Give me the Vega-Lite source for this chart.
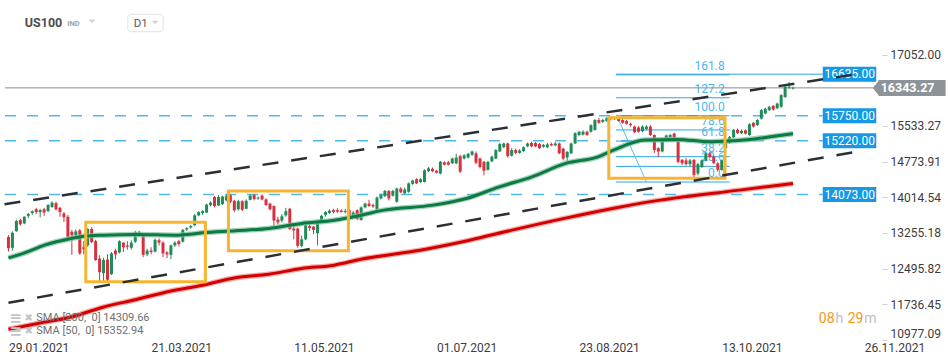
{
  "$schema": "https://vega.github.io/schema/vega-lite/v6.json",
  "width": 882,
  "height": 340,
  "autosize": {"type": "none"},
  "padding": {"left": 0, "top": 0, "right": 68, "bottom": 24},
  "background": "#ffffff",
  "config": {"view": {"stroke": null}, "font": "Roboto", "axis": {"grid": false}},
  "datasets": {
    "candles": [
      {"i":0,"o":13170,"h":13210,"l":12860,"c":12930},{"i":1,"o":12940,"h":13290,"l":12880,"c":13260},{"i":2,"o":13290,"h":13540,"l":13280,"c":13510},{"i":3,"o":13530,"h":13560,"l":13410,"c":13440},{"i":4,"o":13460,"h":13610,"l":13440,"c":13600},
      {"i":5,"o":13620,"h":13680,"l":13570,"c":13660},{"i":6,"o":13680,"h":13740,"l":13640,"c":13720},{"i":7,"o":13760,"h":13790,"l":13660,"c":13700},{"i":8,"o":13700,"h":13770,"l":13590,"c":13740},{"i":9,"o":13760,"h":13790,"l":13620,"c":13690},
      {"i":10,"o":13720,"h":13870,"l":13700,"c":13850},{"i":11,"o":13810,"h":13930,"l":13790,"c":13900},{"i":12,"o":13890,"h":13920,"l":13730,"c":13760},{"i":13,"o":13790,"h":13810,"l":13600,"c":13700},{"i":14,"o":13670,"h":13700,"l":13490,"c":13590},
      {"i":15,"o":13600,"h":13640,"l":13140,"c":13170},{"i":16,"o":13280,"h":13320,"l":12790,"c":13210},{"i":17,"o":13200,"h":13330,"l":13140,"c":13290},{"i":18,"o":13310,"h":13340,"l":12790,"c":12820},{"i":19,"o":12950,"h":13080,"l":12800,"c":12910},
      {"i":20,"o":12990,"h":13360,"l":12960,"c":13340},{"i":21,"o":13340,"h":13380,"l":13040,"c":13060},{"i":22,"o":13080,"h":13110,"l":12660,"c":12680},{"i":23,"o":12710,"h":12780,"l":12210,"c":12420},{"i":24,"o":12400,"h":12730,"l":12210,"c":12680},
      {"i":25,"o":12690,"h":12800,"l":12200,"c":12260},{"i":26,"o":12380,"h":12850,"l":12360,"c":12820},{"i":27,"o":12880,"h":12920,"l":12690,"c":12800},{"i":28,"o":12840,"h":13100,"l":12820,"c":13080},{"i":29,"o":13050,"h":13060,"l":12850,"c":12950},
      {"i":30,"o":12990,"h":13080,"l":12900,"c":12960},{"i":31,"o":12940,"h":13100,"l":12900,"c":13050},{"i":32,"o":13070,"h":13300,"l":13040,"c":13270},{"i":33,"o":13220,"h":13300,"l":13170,"c":13280},{"i":34,"o":13210,"h":13230,"l":12740,"c":12790},
      {"i":35,"o":12800,"h":12920,"l":12760,"c":12880},{"i":36,"o":12880,"h":12950,"l":12800,"c":12850},{"i":37,"o":12860,"h":13140,"l":12840,"c":13110},{"i":38,"o":13100,"h":13140,"l":12990,"c":13050},{"i":39,"o":13050,"h":13080,"l":12740,"c":12820},
      {"i":40,"o":12840,"h":12870,"l":12720,"c":12800},{"i":41,"o":12790,"h":13010,"l":12700,"c":12990},{"i":42,"o":12990,"h":13080,"l":12960,"c":13050},{"i":43,"o":13080,"h":13110,"l":12970,"c":13020},{"i":44,"o":13070,"h":13340,"l":13050,"c":13320},
      {"i":45,"o":13330,"h":13380,"l":13300,"c":13360},{"i":46,"o":13370,"h":13430,"l":13350,"c":13400},{"i":47,"o":13420,"h":13660,"l":13400,"c":13630},{"i":48,"o":13630,"h":13720,"l":13610,"c":13700},{"i":49,"o":13680,"h":13740,"l":13640,"c":13720},
      {"i":50,"o":13690,"h":13880,"l":13680,"c":13860},{"i":51,"o":13850,"h":13930,"l":13820,"c":13900},{"i":52,"o":14020,"h":14040,"l":13800,"c":13830},{"i":53,"o":13840,"h":14060,"l":13830,"c":14020},{"i":54,"o":13870,"h":14050,"l":13850,"c":14030},
      {"i":55,"o":13950,"h":14070,"l":13930,"c":14040},{"i":56,"o":14060,"h":14080,"l":13890,"c":13920},{"i":57,"o":13940,"h":13960,"l":13700,"c":13740},{"i":58,"o":13760,"h":13960,"l":13730,"c":13930},{"i":59,"o":13930,"h":13950,"l":13720,"c":13750},
      {"i":60,"o":13770,"h":13970,"l":13760,"c":13940},{"i":61,"o":13960,"h":14080,"l":13950,"c":14050},{"i":62,"o":14060,"h":14090,"l":13950,"c":13980},{"i":63,"o":13990,"h":14030,"l":13960,"c":14010},{"i":64,"o":14050,"h":14080,"l":13950,"c":13970},
      {"i":65,"o":13970,"h":13990,"l":13830,"c":13850},{"i":66,"o":13880,"h":13900,"l":13740,"c":13760},{"i":67,"o":13830,"h":13840,"l":13400,"c":13520},{"i":68,"o":13540,"h":13600,"l":13440,"c":13480},{"i":69,"o":13520,"h":13660,"l":13480,"c":13610},
      {"i":70,"o":13630,"h":13790,"l":13600,"c":13720},{"i":71,"o":13770,"h":13790,"l":13320,"c":13340},{"i":72,"o":13350,"h":13420,"l":13120,"c":13310},{"i":73,"o":13350,"h":13370,"l":12940,"c":12980},{"i":74,"o":12980,"h":13200,"l":12950,"c":13120},
      {"i":75,"o":13120,"h":13440,"l":13100,"c":13420},{"i":76,"o":13400,"h":13440,"l":13300,"c":13360},{"i":77,"o":13390,"h":13400,"l":13230,"c":13320},{"i":78,"o":13250,"h":13500,"l":12990,"c":13480},{"i":79,"o":13500,"h":13640,"l":13480,"c":13620},
      {"i":80,"o":13640,"h":13720,"l":13600,"c":13700},{"i":81,"o":13680,"h":13760,"l":13660,"c":13730},{"i":82,"o":13740,"h":13770,"l":13670,"c":13700},{"i":83,"o":13740,"h":13780,"l":13680,"c":13710},{"i":84,"o":13730,"h":13760,"l":13690,"c":13700},
      {"i":85,"o":13700,"h":13770,"l":13670,"c":13720},{"i":86,"o":13740,"h":13770,"l":13520,"c":13540},{"i":87,"o":13610,"h":13720,"l":13590,"c":13690},{"i":88,"o":13740,"h":13760,"l":13530,"c":13550},{"i":89,"o":13530,"h":13820,"l":13520,"c":13800},
      {"i":90,"o":13800,"h":13900,"l":13780,"c":13880},{"i":91,"o":13880,"h":13960,"l":13810,"c":13830},{"i":92,"o":13850,"h":13880,"l":13790,"c":13820},{"i":93,"o":13760,"h":14030,"l":13740,"c":14010},{"i":94,"o":13990,"h":14090,"l":13970,"c":14060},
      {"i":95,"o":14040,"h":14170,"l":14020,"c":14150},{"i":96,"o":14150,"h":14170,"l":13950,"c":13990},{"i":97,"o":14050,"h":14170,"l":14030,"c":14150},{"i":98,"o":13920,"h":14220,"l":13900,"c":14200},{"i":99,"o":14200,"h":14230,"l":14100,"c":14120},
      {"i":100,"o":14100,"h":14220,"l":14080,"c":14180},{"i":101,"o":14130,"h":14330,"l":14110,"c":14310},{"i":102,"o":14300,"h":14390,"l":14280,"c":14370},{"i":103,"o":14400,"h":14420,"l":14300,"c":14310},{"i":104,"o":14340,"h":14420,"l":14320,"c":14400},
      {"i":105,"o":14340,"h":14610,"l":14330,"c":14590},{"i":106,"o":14570,"h":14660,"l":14550,"c":14630},{"i":107,"o":14620,"h":14650,"l":14550,"c":14570},{"i":108,"o":14580,"h":14600,"l":14520,"c":14540},{"i":109,"o":14520,"h":14790,"l":14500,"c":14770},
      {"i":110,"o":14760,"h":14780,"l":14690,"c":14710},{"i":111,"o":14760,"h":14790,"l":14690,"c":14710},{"i":112,"o":14740,"h":14860,"l":14720,"c":14840},{"i":113,"o":14740,"h":14940,"l":14720,"c":14860},{"i":114,"o":14890,"h":14920,"l":14530,"c":14560},
      {"i":115,"o":14840,"h":14930,"l":14820,"c":14910},{"i":116,"o":14860,"h":14960,"l":14840,"c":14940},{"i":117,"o":14920,"h":15010,"l":14900,"c":14990},{"i":118,"o":14950,"h":14990,"l":14720,"c":14750},{"i":119,"o":14840,"h":14860,"l":14630,"c":14660},
      {"i":120,"o":14770,"h":14790,"l":14480,"c":14580},{"i":121,"o":14600,"h":14790,"l":14580,"c":14770},{"i":122,"o":14780,"h":14900,"l":14760,"c":14880},{"i":123,"o":14840,"h":15040,"l":14830,"c":15020},{"i":124,"o":14990,"h":15170,"l":14980,"c":15150},
      {"i":125,"o":15080,"h":15180,"l":15060,"c":15160},{"i":126,"o":15160,"h":15180,"l":14860,"c":14890},{"i":127,"o":14900,"h":15060,"l":14880,"c":15020},{"i":128,"o":15020,"h":15050,"l":14930,"c":14960},{"i":129,"o":14960,"h":15040,"l":14940,"c":15010},
      {"i":130,"o":15000,"h":15100,"l":14980,"c":15080},{"i":131,"o":15100,"h":15180,"l":15080,"c":15160},{"i":132,"o":15170,"h":15200,"l":15080,"c":15100},{"i":133,"o":15170,"h":15190,"l":15080,"c":15100},{"i":134,"o":15150,"h":15170,"l":15040,"c":15060},
      {"i":135,"o":15090,"h":15150,"l":15070,"c":15130},{"i":136,"o":15080,"h":15170,"l":15060,"c":15140},{"i":137,"o":15150,"h":15180,"l":15100,"c":15120},{"i":138,"o":15120,"h":15190,"l":15100,"c":15160},{"i":139,"o":15160,"h":15180,"l":14930,"c":14950},
      {"i":140,"o":15050,"h":15070,"l":14800,"c":14840},{"i":141,"o":14860,"h":15000,"l":14780,"c":14980},{"i":142,"o":14950,"h":15180,"l":14940,"c":15160},{"i":143,"o":15160,"h":15400,"l":15150,"c":15380},{"i":144,"o":15340,"h":15430,"l":15320,"c":15410},
      {"i":145,"o":15350,"h":15440,"l":15330,"c":15410},{"i":146,"o":15410,"h":15430,"l":15320,"c":15340},{"i":147,"o":15410,"h":15570,"l":15390,"c":15550},{"i":148,"o":15450,"h":15680,"l":15430,"c":15660},{"i":149,"o":15660,"h":15700,"l":15580,"c":15600},
      {"i":150,"o":15620,"h":15690,"l":15600,"c":15660},{"i":151,"o":15640,"h":15720,"l":15620,"c":15700},{"i":152,"o":15700,"h":15740,"l":15650,"c":15680},{"i":153,"o":15680,"h":15730,"l":15660,"c":15710},{"i":154,"o":15700,"h":15720,"l":15620,"c":15640},
      {"i":155,"o":15660,"h":15680,"l":15580,"c":15600},{"i":156,"o":15640,"h":15660,"l":15560,"c":15580},{"i":157,"o":15580,"h":15600,"l":15520,"c":15550},{"i":158,"o":15520,"h":15540,"l":15380,"c":15400},{"i":159,"o":15500,"h":15530,"l":15390,"c":15410},
      {"i":160,"o":15420,"h":15550,"l":15400,"c":15520},{"i":161,"o":15470,"h":15550,"l":15440,"c":15520},{"i":162,"o":15520,"h":15550,"l":15320,"c":15340},{"i":163,"o":15340,"h":15350,"l":14960,"c":15020},{"i":164,"o":15060,"h":15080,"l":14870,"c":14990},
      {"i":165,"o":14990,"h":15250,"l":14970,"c":15230},{"i":166,"o":15230,"h":15350,"l":15200,"c":15330},{"i":167,"o":15290,"h":15360,"l":15270,"c":15340},{"i":168,"o":15370,"h":15390,"l":15240,"c":15270},{"i":169,"o":15200,"h":15210,"l":14740,"c":14770},
      {"i":170,"o":14810,"h":14830,"l":14700,"c":14740},{"i":171,"o":14800,"h":14850,"l":14690,"c":14720},{"i":172,"o":14720,"h":14830,"l":14680,"c":14800},{"i":173,"o":14810,"h":14830,"l":14420,"c":14490},{"i":174,"o":14520,"h":14750,"l":14480,"c":14720},
      {"i":175,"o":14660,"h":14820,"l":14640,"c":14800},{"i":176,"o":14800,"h":14970,"l":14780,"c":14950},{"i":177,"o":14950,"h":14980,"l":14850,"c":14870},{"i":178,"o":14880,"h":14900,"l":14720,"c":14740},{"i":179,"o":14740,"h":14760,"l":14560,"c":14600},
      {"i":180,"o":14600,"h":14820,"l":14580,"c":14800},{"i":181,"o":15060,"h":15210,"l":15040,"c":15190},{"i":182,"o":15170,"h":15320,"l":15150,"c":15300},{"i":183,"o":15290,"h":15470,"l":15280,"c":15450},{"i":184,"o":15450,"h":15480,"l":15360,"c":15380},
      {"i":185,"o":15380,"h":15460,"l":15360,"c":15430},{"i":186,"o":15440,"h":15460,"l":15350,"c":15370},{"i":187,"o":15340,"h":15590,"l":15320,"c":15570},{"i":188,"o":15600,"h":15620,"l":15500,"c":15520},{"i":189,"o":15550,"h":15680,"l":15530,"c":15660},
      {"i":190,"o":15690,"h":15890,"l":15670,"c":15870},{"i":191,"o":15800,"h":15920,"l":15780,"c":15900},{"i":192,"o":15870,"h":15960,"l":15850,"c":15940},{"i":193,"o":15960,"h":15980,"l":15860,"c":15880},{"i":194,"o":15910,"h":16030,"l":15890,"c":16010},
      {"i":195,"o":15940,"h":16210,"l":15920,"c":16190},{"i":196,"o":16150,"h":16390,"l":16130,"c":16370},{"i":197,"o":16350,"h":16474,"l":16320,"c":16370},{"i":198,"o":16330,"h":16370,"l":16310,"c":16343.27}
    ],
    "sma50": [
      {"i":0,"v":12725},{"i":4.1,"v":12831},{"i":9.1,"v":12996},{"i":15.8,"v":13138},{"i":19.1,"v":13187},{"i":24.1,"v":13209},{"i":32.3,"v":13223},{"i":42.3,"v":13209},{"i":45.8,"v":13230},{"i":49,"v":13258},{"i":57.3,"v":13300},{"i":65.7,"v":13351},{"i":74,"v":13458},{"i":82.2,"v":13528},{"i":89,"v":13634},{"i":94.7,"v":13741},{"i":107.2,"v":13848},{"i":115.6,"v":13990},{"i":123.9,"v":14237},{"i":132.1,"v":14450},{"i":140.6,"v":14736},{"i":148.8,"v":14876},{"i":153,"v":15030},{"i":160.6,"v":15232},{"i":168.8,"v":15247},{"i":177,"v":15196},{"i":181.3,"v":15211},{"i":185.5,"v":15232},{"i":193.7,"v":15320},{"i":198,"v":15370}
    ],
    "sma200": [
      {"i":0,"v":11206},{"i":7.4,"v":11327},{"i":15.8,"v":11468},{"i":24.1,"v":11681},{"i":32.3,"v":11839},{"i":40.8,"v":12016},{"i":49,"v":12144},{"i":57.3,"v":12303},{"i":65.7,"v":12378},{"i":74,"v":12499},{"i":82.2,"v":12570},{"i":89,"v":12697},{"i":103.9,"v":12889},{"i":116.4,"v":13102},{"i":127.1,"v":13315},{"i":140,"v":13560},{"i":153.8,"v":13798},{"i":164.5,"v":13954},{"i":184.5,"v":14167},{"i":198,"v":14310}
    ],
    "levels": [{"v":15750},{"v":15220},{"v":14073}],
    "tags": [{"v":16635},{"v":15750},{"v":15220},{"v":14073}],
    "fib": [
      {"lvl":"161.8","v":16621},{"lvl":"127.2","v":16133},{"lvl":"100.0","v":15750},{"lvl":"78.6","v":15448},{"lvl":"61.8","v":15211},{"lvl":"38.2","v":14879},{"lvl":"23.6","v":14673},{"lvl":"0.0","v":14340}
    ],
    "fibdiag": [{"i":153.8,"v":15700},{"i":161,"v":14340}],
    "trend": [
      {"g":"upper","i":-1,"v":13866},{"g":"upper","i":215,"v":16647},
      {"g":"lower","i":0,"v":11771},{"g":"lower","i":214,"v":14985}
    ],
    "boxes": [
      {"i1":19.51,"i2":49.7,"v1":13482,"v2":12218},
      {"i1":55.51,"i2":85.78,"v1":14149,"v2":12878},
      {"i1":151.5,"i2":180.84,"v1":15709,"v2":14419}
    ]
  },
  "layer": [
    {
      "data": {"name": "candles"},
      "mark": {"type": "rule", "strokeWidth": 1},
      "encoding": {
        "x": {
          "field": "i", "type": "quantitative",
          "scale": {"domain": [-0.873, 219.19], "nice": false, "zero": false},
          "axis": {
            "values": [0, 36, 72, 108, 144, 180, 216],
            "labelExpr": "datum.value == 0 ? '29.01.2021' : datum.value == 36 ? '21.03.2021' : datum.value == 72 ? '11.05.2021' : datum.value == 108 ? '01.07.2021' : datum.value == 144 ? '23.08.2021' : datum.value == 180 ? '13.10.2021' : '26.11.2021'",
            "labelAlign": "left", "labelPadding": 2, "ticks": false, "domain": false,
            "labelFontSize": 12, "labelColor": "#3c3c3c", "labelFont": "Roboto",
            "title": null, "labelOverlap": false, "labelBound": false, "labelFlush": false
          }
        },
        "y": {
          "field": "l", "type": "quantitative",
          "scale": {"domain": [10977.09, 18214], "nice": false, "zero": false},
          "axis": {
            "orient": "right",
            "values": [17052, 15533.27, 14773.91, 14014.54, 13255.18, 12495.82, 11736.45, 10977.09],
            "format": ".2f", "labelFlush": true, "tickSize": 5, "tickColor": "#d0d0d0",
            "domain": false, "labelPadding": 3, "labelFontSize": 12, "labelColor": "#3c3c3c",
            "labelFont": "Roboto", "title": null, "labelOverlap": false
          }
        },
        "y2": {"field": "h"},
        "color": {"value": "#ffffff"},
        "opacity": {"value": 0}
      }
    },
    {
      "data": {"name": "levels"},
      "mark": {"type": "rule", "color": "#4fb8ef", "strokeWidth": 1.5, "strokeDash": [11, 11]},
      "encoding": {
        "x": {"datum": -0.873, "type": "quantitative"},
        "x2": {"datum": 205.5},
        "y": {"field": "v", "type": "quantitative"}
      }
    },
    {
      "data": {"name": "fib"},
      "mark": {"type": "rule", "color": "#2aa5e6", "strokeWidth": 1},
      "encoding": {
        "x": {"datum": 153.3, "type": "quantitative"},
        "x2": {"datum": 182},
        "y": {"field": "v", "type": "quantitative"}
      }
    },
    {
      "data": {"name": "fib"},
      "mark": {"type": "text", "align": "right", "baseline": "bottom", "dy": -2, "fontSize": 12, "color": "#4db6ee", "font": "Roboto"},
      "encoding": {
        "x": {"datum": 180.76, "type": "quantitative"},
        "y": {"field": "v", "type": "quantitative"},
        "text": {"field": "lvl"}
      }
    },
    {
      "data": {"values": [{}]},
      "mark": {"type": "rule", "color": "#2aa5e6", "strokeWidth": 1},
      "encoding": {
        "x": {"datum": 153.3, "type": "quantitative"},
        "x2": {"datum": 205.5},
        "y": {"datum": 16635, "type": "quantitative"}
      }
    },
    {
      "data": {"name": "fibdiag"},
      "mark": {"type": "line", "color": "#5bbdf0", "strokeWidth": 1},
      "encoding": {
        "x": {"field": "i", "type": "quantitative"},
        "y": {"field": "v", "type": "quantitative"}
      }
    },
    {
      "data": {"values": [{}]},
      "mark": {"type": "rule", "color": "#8a8a8a", "strokeWidth": 1},
      "encoding": {
        "x": {"datum": -0.873, "type": "quantitative"},
        "x2": {"datum": 218.2},
        "y": {"datum": 16343.27, "type": "quantitative"}
      }
    },
    {
      "data": {"name": "candles"},
      "mark": {"type": "rule", "strokeWidth": 1},
      "encoding": {
        "x": {"field": "i", "type": "quantitative"},
        "y": {"field": "l", "type": "quantitative"},
        "y2": {"field": "h"},
        "color": {"condition": {"test": "datum.c >= datum.o", "value": "#1f8c58"}, "value": "#d7303f"}
      }
    },
    {
      "data": {"name": "candles"},
      "mark": {"type": "bar", "width": 3},
      "encoding": {
        "x": {"field": "i", "type": "quantitative"},
        "y": {"field": "o", "type": "quantitative"},
        "y2": {"field": "c"},
        "color": {"condition": {"test": "datum.c >= datum.o", "value": "#1f8c58"}, "value": "#d7303f"}
      }
    },
    {
      "data": {"name": "sma200"},
      "mark": {"type": "line", "color": "#f08a8a", "strokeWidth": 5.5, "opacity": 0.7, "interpolate": "monotone"},
      "encoding": {
        "x": {"field": "i", "type": "quantitative"},
        "y": {"field": "v", "type": "quantitative"}
      }
    },
    {
      "data": {"name": "sma200"},
      "mark": {"type": "line", "color": "#d40000", "strokeWidth": 3, "interpolate": "monotone"},
      "encoding": {
        "x": {"field": "i", "type": "quantitative"},
        "y": {"field": "v", "type": "quantitative"}
      }
    },
    {
      "data": {"name": "sma50"},
      "mark": {"type": "line", "color": "#7cc09c", "strokeWidth": 5.5, "opacity": 0.7, "interpolate": "monotone"},
      "encoding": {
        "x": {"field": "i", "type": "quantitative"},
        "y": {"field": "v", "type": "quantitative"}
      }
    },
    {
      "data": {"name": "sma50"},
      "mark": {"type": "line", "color": "#0b7a45", "strokeWidth": 3, "interpolate": "monotone"},
      "encoding": {
        "x": {"field": "i", "type": "quantitative"},
        "y": {"field": "v", "type": "quantitative"}
      }
    },
    {
      "data": {"name": "boxes"},
      "mark": {"type": "rect", "fillOpacity": 0, "stroke": "#f6b530", "strokeWidth": 3},
      "encoding": {
        "x": {"field": "i1", "type": "quantitative"},
        "x2": {"field": "i2"},
        "y": {"field": "v1", "type": "quantitative"},
        "y2": {"field": "v2"}
      }
    },
    {
      "data": {"name": "tags"},
      "mark": {"type": "rect", "color": "#1598e6", "yOffset": -7.5, "y2Offset": 7.5},
      "encoding": {
        "x": {"datum": 205.5, "type": "quantitative"},
        "x2": {"datum": 219.0},
        "y": {"field": "v", "type": "quantitative"},
        "y2": {"field": "v"}
      }
    },
    {
      "data": {"name": "tags"},
      "mark": {"type": "text", "color": "#ffffff", "fontSize": 12, "align": "center", "baseline": "middle", "font": "Roboto"},
      "encoding": {
        "x": {"datum": 212.3, "type": "quantitative"},
        "y": {"field": "v", "type": "quantitative"},
        "text": {"field": "v", "format": ".2f"}
      }
    },
    {
      "data": {"name": "trend"},
      "mark": {"type": "line", "color": "#2b2f33", "strokeWidth": 2.5, "strokeDash": [16, 13]},
      "encoding": {
        "x": {"field": "i", "type": "quantitative"},
        "y": {"field": "v", "type": "quantitative"},
        "detail": {"field": "g"}
      }
    },
    {
      "data": {"values": [{}]},
      "mark": {"type": "rect", "color": "#8d9499", "yOffset": -8, "y2Offset": 8},
      "encoding": {
        "x": {"datum": 219.6, "type": "quantitative"},
        "x2": {"datum": 236.5},
        "y": {"datum": 16343.27, "type": "quantitative"},
        "y2": {"datum": 16343.27}
      }
    },
    {
      "data": {"values": [{}]},
      "mark": {"type": "point", "shape": "M -0.4 0 L 0.42 -1 L 0.42 1 Z", "size": 256, "filled": true, "color": "#8d9499", "opacity": 1, "strokeWidth": 0},
      "encoding": {
        "x": {"datum": 218.93, "type": "quantitative"},
        "y": {"datum": 16343.27, "type": "quantitative"}
      }
    },
    {
      "data": {"values": [{}]},
      "mark": {"type": "text", "text": "16343.27", "color": "#ffffff", "fontSize": 12.5, "fontWeight": "bold", "align": "center", "baseline": "middle", "font": "Roboto"},
      "encoding": {
        "x": {"datum": 226.9, "type": "quantitative"},
        "y": {"datum": 16343.27, "type": "quantitative"}
      }
    },
    {
      "data": {"values": [{}]},
      "mark": {"type": "text", "text": "US100", "color": "#4d4d4d", "fontSize": 12.5, "fontWeight": "bold", "align": "left", "baseline": "middle", "font": "Roboto"},
      "encoding": {
        "x": {"datum": 4.12, "type": "quantitative"},
        "y": {"datum": 17724, "type": "quantitative"}
      }
    },
    {
      "data": {"values": [{}]},
      "mark": {"type": "text", "text": "IND", "color": "#9aa4ad", "fontSize": 7.5, "fontWeight": "bold", "align": "left", "baseline": "middle", "font": "Roboto"},
      "encoding": {
        "x": {"datum": 14.85, "type": "quantitative"},
        "y": {"datum": 17697, "type": "quantitative"}
      }
    },
    {
      "data": {"values": [{}]},
      "mark": {"type": "point", "shape": "M -1 -0.5 L 1 -0.5 L 0 0.5 Z", "size": 49, "filled": true, "color": "#cfd4d8", "opacity": 1, "strokeWidth": 0},
      "encoding": {
        "x": {"datum": 21.08, "type": "quantitative"},
        "y": {"datum": 17760, "type": "quantitative"}
      }
    },
    {
      "data": {"values": [{}]},
      "mark": {"type": "rect", "fill": "#ffffff", "stroke": "#e2e2e2", "strokeWidth": 1, "cornerRadius": 3},
      "encoding": {
        "x": {"datum": 30.14, "type": "quantitative"},
        "x2": {"datum": 39.05},
        "y": {"datum": 17909, "type": "quantitative"},
        "y2": {"datum": 17539}
      }
    },
    {
      "data": {"values": [{}]},
      "mark": {"type": "text", "text": "D1", "color": "#5a5a5a", "fontSize": 11.5, "align": "left", "baseline": "middle", "font": "Roboto"},
      "encoding": {
        "x": {"datum": 31.6, "type": "quantitative"},
        "y": {"datum": 17703, "type": "quantitative"}
      }
    },
    {
      "data": {"values": [{}]},
      "mark": {"type": "point", "shape": "M -1 -0.5 L 1 -0.5 L 0 0.5 Z", "size": 49, "filled": true, "color": "#cfd4d8", "opacity": 1, "strokeWidth": 0},
      "encoding": {
        "x": {"datum": 37.05, "type": "quantitative"},
        "y": {"datum": 17735, "type": "quantitative"}
      }
    },
    {
      "data": {"values": [{}]},
      "mark": {"type": "text", "text": "≡", "color": "#c4c4c4", "fontSize": 15, "fontWeight": "bold", "align": "center", "baseline": "middle", "font": "DejaVu Sans"},
      "encoding": {
        "x": {"datum": 1.87, "type": "quantitative"},
        "y": {"datum": 11456, "type": "quantitative"}
      }
    },
    {
      "data": {"values": [{}]},
      "mark": {"type": "text", "text": "✖", "color": "#c4c4c4", "fontSize": 10, "align": "center", "baseline": "middle", "font": "DejaVu Sans"},
      "encoding": {
        "x": {"datum": 5.11, "type": "quantitative"},
        "y": {"datum": 11456, "type": "quantitative"}
      }
    },
    {
      "data": {"values": [{}]},
      "mark": {"type": "text", "text": "SMA [200,\u00a0 0] 14309.66", "color": "#707070", "fontSize": 11, "align": "left", "baseline": "middle", "font": "Roboto"},
      "encoding": {
        "x": {"datum": 7.03, "type": "quantitative"},
        "y": {"datum": 11456, "type": "quantitative"}
      }
    },
    {
      "data": {"values": [{}]},
      "mark": {"type": "text", "text": "≡", "color": "#c4c4c4", "fontSize": 15, "fontWeight": "bold", "align": "center", "baseline": "middle", "font": "DejaVu Sans"},
      "encoding": {
        "x": {"datum": 1.87, "type": "quantitative"},
        "y": {"datum": 11169, "type": "quantitative"}
      }
    },
    {
      "data": {"values": [{}]},
      "mark": {"type": "text", "text": "✖", "color": "#c4c4c4", "fontSize": 10, "align": "center", "baseline": "middle", "font": "DejaVu Sans"},
      "encoding": {
        "x": {"datum": 5.11, "type": "quantitative"},
        "y": {"datum": 11169, "type": "quantitative"}
      }
    },
    {
      "data": {"values": [{}]},
      "mark": {"type": "text", "text": "SMA [50,\u00a0 0] 15352.94", "color": "#707070", "fontSize": 11, "align": "left", "baseline": "middle", "font": "Roboto"},
      "encoding": {
        "x": {"datum": 7.03, "type": "quantitative"},
        "y": {"datum": 11169, "type": "quantitative"}
      }
    },
    {
      "data": {"values": [{}]},
      "mark": {"type": "text", "text": "08", "color": "#f5961e", "fontSize": 14, "align": "left", "baseline": "middle", "font": "Roboto"},
      "encoding": {
        "x": {"datum": 204.5, "type": "quantitative"},
        "y": {"datum": 11418, "type": "quantitative"}
      }
    },
    {
      "data": {"values": [{}]},
      "mark": {"type": "text", "text": "h", "color": "#c0c0c0", "fontSize": 14, "align": "left", "baseline": "middle", "font": "Roboto"},
      "encoding": {
        "x": {"datum": 208.7, "type": "quantitative"},
        "y": {"datum": 11418, "type": "quantitative"}
      }
    },
    {
      "data": {"values": [{}]},
      "mark": {"type": "text", "text": "29", "color": "#f5961e", "fontSize": 14, "align": "left", "baseline": "middle", "font": "Roboto"},
      "encoding": {
        "x": {"datum": 211.8, "type": "quantitative"},
        "y": {"datum": 11418, "type": "quantitative"}
      }
    },
    {
      "data": {"values": [{}]},
      "mark": {"type": "text", "text": "m", "color": "#c0c0c0", "fontSize": 14, "align": "left", "baseline": "middle", "font": "Roboto"},
      "encoding": {
        "x": {"datum": 215.95, "type": "quantitative"},
        "y": {"datum": 11418, "type": "quantitative"}
      }
    }
  ]
}
